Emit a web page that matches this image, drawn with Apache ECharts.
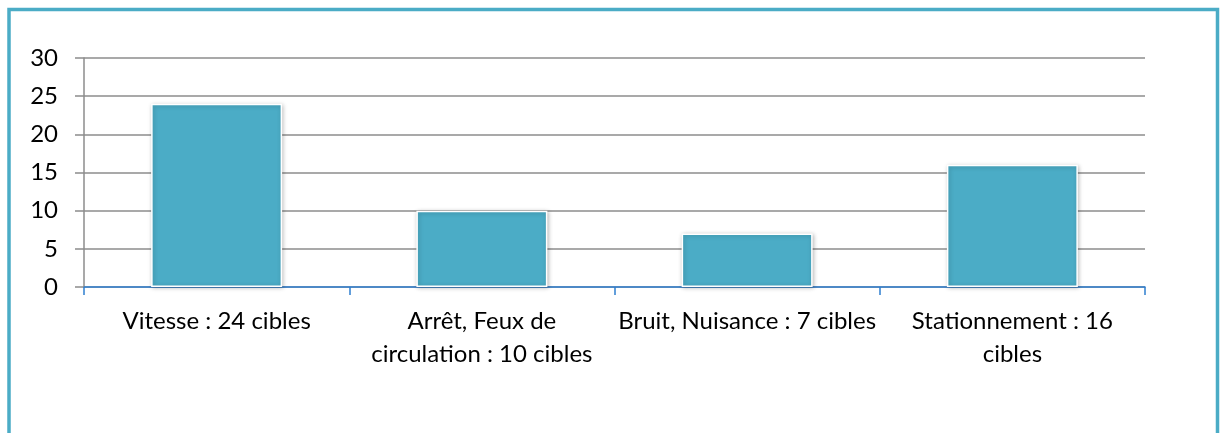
<!DOCTYPE html>
<html>
<head>
<meta charset="utf-8">
<script src="https://cdn.jsdelivr.net/npm/echarts@6/dist/echarts.min.js"></script>
<style>
  html, body { margin: 0; padding: 0; background: #fff; }
  #chart { width: 1220px; height: 433px; }
</style>
</head>
<body>
<div id="chart"></div>
<script>
// categories (line breaks as wrapped in the original)
var categories = [
  'Vitesse : 24 cibles',
  'Arrêt, Feux de\ncirculation : 10 cibles',
  'Bruit, Nuisance : 7 cibles',
  'Stationnement : 16\ncibles'
];
var cibles = [24, 10, 7, 16];
var yTicks = [0, 5, 10, 15, 20, 25, 30];

var font = 'Lato, "Open Sans", sans-serif';

var chart = echarts.init(document.getElementById('chart'), null, { renderer: 'canvas' });
chart.setOption({
  animation: false,
  backgroundColor: '#fff',
  grid: { left: 84, right: 75, top: 58, bottom: 146 },
  graphic: [{
    type: 'rect',
    shape: { x: 9, y: 9.5, width: 1208.5, height: 500 },
    style: { fill: 'none', stroke: '#4BACC6', lineWidth: 3.5 },
    silent: true
  }],
  xAxis: {
    type: 'category',
    data: categories,
    axisLine: { lineStyle: { color: '#2F7FD0', width: 1.5 } },
    axisTick: { show: true, length: 8, lineStyle: { color: '#2F7FD0', width: 1.5 } },
    axisLabel: {
      interval: 0,
      margin: 18,
      color: '#000',
      fontFamily: font,
      fontSize: 24,
      lineHeight: 33
    }
  },
  yAxis: {
    type: 'value',
    min: yTicks[0],
    max: yTicks[yTicks.length - 1],
    interval: 5,
    axisLine: { show: true, lineStyle: { color: '#8C8C8C', width: 1.5 } },
    axisTick: { show: true, length: 9, lineStyle: { color: '#8C8C8C', width: 1.5 } },
    splitLine: { lineStyle: { color: '#8C8C8C', width: 1.5 } },
    axisLabel: {
      margin: 26,
      color: '#000',
      fontFamily: font,
      fontSize: 24
    }
  },
  series: [{
    type: 'bar',
    data: cibles,
    barWidth: 131,
    itemStyle: {
      color: '#4BACC6',
      borderColor: '#fff',
      borderWidth: 1.5,
      shadowBlur: 4,
      shadowColor: 'rgba(0,0,0,0.25)',
      shadowOffsetX: 1,
      shadowOffsetY: 1
    }
  }]
});
</script>
</body>
</html>
